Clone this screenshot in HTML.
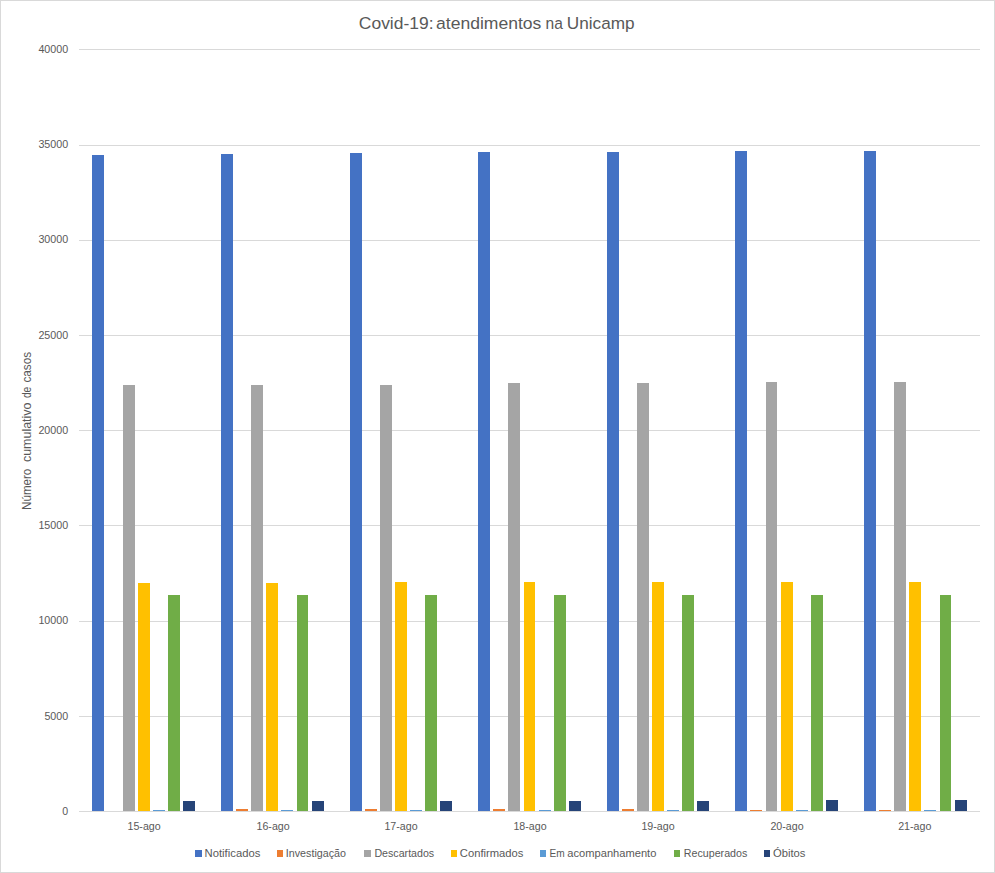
<!DOCTYPE html>
<html><head><meta charset="utf-8"><title>Covid-19: atendimentos na Unicamp</title>
<style>
html,body{margin:0;padding:0;background:#fff;}
body{width:995px;height:873px;overflow:hidden;}
svg{display:block;}
text{font-family:"Liberation Sans",sans-serif;fill:#595959;}
</style></head><body>
<svg width="995" height="873" viewBox="0 0 995 873">
<rect x="0" y="0" width="995" height="873" fill="#ffffff"/>
<rect x="0.5" y="0.5" width="994" height="872" fill="none" stroke="#D9D9D9" stroke-width="1"/>
<g shape-rendering="crispEdges">
<rect x="79" y="49" width="901" height="1" fill="#D9D9D9"/>
<rect x="79" y="145" width="901" height="1" fill="#D9D9D9"/>
<rect x="79" y="240" width="901" height="1" fill="#D9D9D9"/>
<rect x="79" y="335" width="901" height="1" fill="#D9D9D9"/>
<rect x="79" y="430" width="901" height="1" fill="#D9D9D9"/>
<rect x="79" y="525" width="901" height="1" fill="#D9D9D9"/>
<rect x="79" y="621" width="901" height="1" fill="#D9D9D9"/>
<rect x="79" y="716" width="901" height="1" fill="#D9D9D9"/>
<rect x="92" y="155" width="12" height="656" fill="#4472C4"/>
<rect x="123" y="385" width="12" height="426" fill="#A5A5A5"/>
<rect x="138" y="583" width="12" height="228" fill="#FFC000"/>
<rect x="153" y="810" width="12" height="1" fill="#5B9BD5"/>
<rect x="168" y="595" width="12" height="216" fill="#70AD47"/>
<rect x="183" y="801" width="12" height="10" fill="#264478"/>
<rect x="221" y="154" width="12" height="657" fill="#4472C4"/>
<rect x="236" y="809" width="12" height="2" fill="#ED7D31"/>
<rect x="251" y="385" width="12" height="426" fill="#A5A5A5"/>
<rect x="266" y="583" width="12" height="228" fill="#FFC000"/>
<rect x="281" y="810" width="12" height="1" fill="#5B9BD5"/>
<rect x="297" y="595" width="11" height="216" fill="#70AD47"/>
<rect x="312" y="801" width="12" height="10" fill="#264478"/>
<rect x="350" y="153" width="12" height="658" fill="#4472C4"/>
<rect x="365" y="809" width="12" height="2" fill="#ED7D31"/>
<rect x="380" y="385" width="12" height="426" fill="#A5A5A5"/>
<rect x="395" y="582" width="12" height="229" fill="#FFC000"/>
<rect x="410" y="810" width="12" height="1" fill="#5B9BD5"/>
<rect x="425" y="595" width="12" height="216" fill="#70AD47"/>
<rect x="440" y="801" width="12" height="10" fill="#264478"/>
<rect x="478" y="152" width="12" height="659" fill="#4472C4"/>
<rect x="493" y="809" width="12" height="2" fill="#ED7D31"/>
<rect x="508" y="383" width="12" height="428" fill="#A5A5A5"/>
<rect x="524" y="582" width="11" height="229" fill="#FFC000"/>
<rect x="539" y="810" width="12" height="1" fill="#5B9BD5"/>
<rect x="554" y="595" width="12" height="216" fill="#70AD47"/>
<rect x="569" y="801" width="12" height="10" fill="#264478"/>
<rect x="607" y="152" width="12" height="659" fill="#4472C4"/>
<rect x="622" y="809" width="12" height="2" fill="#ED7D31"/>
<rect x="637" y="383" width="12" height="428" fill="#A5A5A5"/>
<rect x="652" y="582" width="12" height="229" fill="#FFC000"/>
<rect x="667" y="810" width="12" height="1" fill="#5B9BD5"/>
<rect x="682" y="595" width="12" height="216" fill="#70AD47"/>
<rect x="697" y="801" width="12" height="10" fill="#264478"/>
<rect x="735" y="151" width="12" height="660" fill="#4472C4"/>
<rect x="750" y="810" width="12" height="1" fill="#ED7D31"/>
<rect x="766" y="382" width="11" height="429" fill="#A5A5A5"/>
<rect x="781" y="582" width="12" height="229" fill="#FFC000"/>
<rect x="796" y="810" width="12" height="1" fill="#5B9BD5"/>
<rect x="811" y="595" width="12" height="216" fill="#70AD47"/>
<rect x="826" y="800" width="12" height="11" fill="#264478"/>
<rect x="864" y="151" width="12" height="660" fill="#4472C4"/>
<rect x="879" y="810" width="12" height="1" fill="#ED7D31"/>
<rect x="894" y="382" width="12" height="429" fill="#A5A5A5"/>
<rect x="909" y="582" width="12" height="229" fill="#FFC000"/>
<rect x="924" y="810" width="12" height="1" fill="#5B9BD5"/>
<rect x="940" y="595" width="11" height="216" fill="#70AD47"/>
<rect x="955" y="800" width="12" height="11" fill="#264478"/>
<rect x="79" y="811" width="901" height="1" fill="#D9D9D9"/>
<rect x="195" y="850" width="7" height="7" fill="#4472C4"/>
<rect x="277" y="850" width="6" height="7" fill="#ED7D31"/>
<rect x="364" y="850" width="7" height="7" fill="#A5A5A5"/>
<rect x="451" y="850" width="6" height="7" fill="#FFC000"/>
<rect x="540" y="850" width="6" height="7" fill="#5B9BD5"/>
<rect x="674" y="850" width="6" height="7" fill="#70AD47"/>
<rect x="764" y="850" width="6" height="7" fill="#264478"/>
</g>
<text x="358.8" y="29" font-size="16.8" textLength="74.8" lengthAdjust="spacingAndGlyphs">Covid-19:</text>
<text x="436.0" y="29" font-size="16.8" textLength="105.4" lengthAdjust="spacingAndGlyphs">atendimentos</text>
<text x="545.5" y="29" font-size="16.8" textLength="17.3" lengthAdjust="spacingAndGlyphs">na</text>
<text x="566.8" y="29" font-size="16.8" textLength="67.8" lengthAdjust="spacingAndGlyphs">Unicamp</text>
<text x="38.4" y="52.90" font-size="11" textLength="29.8" lengthAdjust="spacingAndGlyphs">40000</text>
<text x="38.4" y="148.15" font-size="11" textLength="29.8" lengthAdjust="spacingAndGlyphs">35000</text>
<text x="38.4" y="243.40" font-size="11" textLength="29.8" lengthAdjust="spacingAndGlyphs">30000</text>
<text x="38.4" y="338.65" font-size="11" textLength="29.8" lengthAdjust="spacingAndGlyphs">25000</text>
<text x="38.4" y="433.90" font-size="11" textLength="29.8" lengthAdjust="spacingAndGlyphs">20000</text>
<text x="38.4" y="529.15" font-size="11" textLength="29.8" lengthAdjust="spacingAndGlyphs">15000</text>
<text x="38.4" y="624.40" font-size="11" textLength="29.8" lengthAdjust="spacingAndGlyphs">10000</text>
<text x="44.4" y="719.65" font-size="11" textLength="23.8" lengthAdjust="spacingAndGlyphs">5000</text>
<text x="62.3" y="814.90" font-size="11" textLength="5.9" lengthAdjust="spacingAndGlyphs">0</text>
<text x="127.5" y="829.6" font-size="10.9" textLength="33.2" lengthAdjust="spacingAndGlyphs">15-ago</text>
<text x="256.5" y="829.6" font-size="10.9" textLength="33.2" lengthAdjust="spacingAndGlyphs">16-ago</text>
<text x="384.4" y="829.6" font-size="10.9" textLength="33.2" lengthAdjust="spacingAndGlyphs">17-ago</text>
<text x="513.4" y="829.6" font-size="10.9" textLength="33.2" lengthAdjust="spacingAndGlyphs">18-ago</text>
<text x="641.4" y="829.6" font-size="10.9" textLength="33.2" lengthAdjust="spacingAndGlyphs">19-ago</text>
<text x="770.4" y="829.6" font-size="10.9" textLength="33.2" lengthAdjust="spacingAndGlyphs">20-ago</text>
<text x="898.2" y="829.6" font-size="10.9" textLength="33.2" lengthAdjust="spacingAndGlyphs">21-ago</text>
<text transform="translate(31.3,509.9) rotate(-90)" font-size="12" textLength="41.2" lengthAdjust="spacingAndGlyphs">Número</text>
<text transform="translate(31.3,462.1) rotate(-90)" font-size="12" textLength="59.6" lengthAdjust="spacingAndGlyphs">cumulativo</text>
<text transform="translate(31.3,398.1) rotate(-90)" font-size="12" textLength="11.4" lengthAdjust="spacingAndGlyphs">de</text>
<text transform="translate(31.3,382.6) rotate(-90)" font-size="12" textLength="30.8" lengthAdjust="spacingAndGlyphs">casos</text>
<text x="204.6" y="857" font-size="10.9" textLength="55.7" lengthAdjust="spacingAndGlyphs">Notificados</text>
<text x="285.8" y="857" font-size="10.9" textLength="60.2" lengthAdjust="spacingAndGlyphs">Investigação</text>
<text x="374.4" y="857" font-size="10.9" textLength="59.8" lengthAdjust="spacingAndGlyphs">Descartados</text>
<text x="459.8" y="857" font-size="10.9" textLength="63.7" lengthAdjust="spacingAndGlyphs">Confirmados</text>
<text x="549.4" y="857" font-size="10.9" textLength="15.2" lengthAdjust="spacingAndGlyphs">Em</text>
<text x="567.3" y="857" font-size="10.9" textLength="89.1" lengthAdjust="spacingAndGlyphs">acompanhamento</text>
<text x="683.8" y="857" font-size="10.9" textLength="63.5" lengthAdjust="spacingAndGlyphs">Recuperados</text>
<text x="773.0" y="857" font-size="10.9" textLength="32.5" lengthAdjust="spacingAndGlyphs">Óbitos</text>
</svg>
</body></html>
